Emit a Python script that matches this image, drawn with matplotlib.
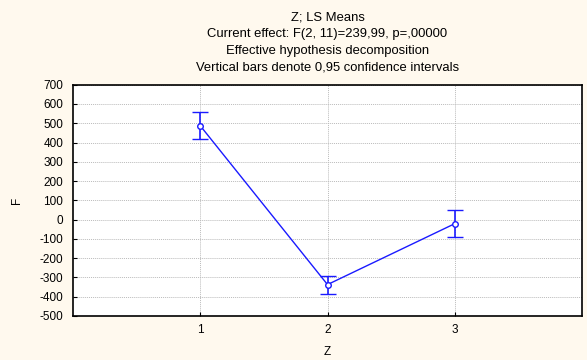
import matplotlib
matplotlib.use("Agg")
import matplotlib.pyplot as plt

categories = [1, 2, 3]
means = [487, -337, -21]
ci_half = [71, 47, 70]
yticks = list(range(-500, 701, 100))

plt.rcParams['font.family'] = ['Liberation Sans', 'DejaVu Sans']
plt.rcParams['axes.unicode_minus'] = False

bg = '#FFF9EE'
fig = plt.figure(figsize=(5.87, 3.6), dpi=100, facecolor=bg)
ax = fig.add_axes([73/587, 1-316/360, (582-73)/587, (316-84.7)/360])
ax.set_facecolor('white')

ax.errorbar(categories, means, yerr=ci_half, color='#1a1aff', lw=1.0,
            marker='o', ms=4, mfc='white', mec='#1a1aff', mew=1.0,
            capsize=6, capthick=1.2, elinewidth=1.2, zorder=3)

ax.set_xlim(0, 4)
ax.set_ylim(-500, 700)
ax.set_xticks(categories)
ax.set_xticklabels([str(c) for c in categories])
ax.set_yticks(yticks)
ax.grid(True, color='#bbbbbb', linestyle=(0, (1, 1)), lw=0.7)
ax.tick_params(axis='both', direction='in', length=3, labelsize=8.5, width=0.8)
ax.tick_params(axis='y', pad=7)
ax.tick_params(axis='x', pad=6)
for s in ax.spines.values():
    s.set_linewidth(1.2)
    s.set_color('black')

ax.set_xlabel('Z', fontsize=8.5, labelpad=7)
ax.set_ylabel('F', fontsize=8.5, labelpad=12)

cx = (73 + 582) / 2 / 587
titles = ['Z; LS Means',
          'Current effect: F(2, 11)=239,99, p=,00000',
          'Effective hypothesis decomposition',
          'Vertical bars denote 0,95 confidence intervals']
ys = [18, 34.5, 51, 67]
for t, y in zip(titles, ys):
    fig.text(cx, 1 - y/360, t, ha='center', va='center', fontsize=9.4)

fig.savefig('out.png', dpi=100, facecolor=bg)
